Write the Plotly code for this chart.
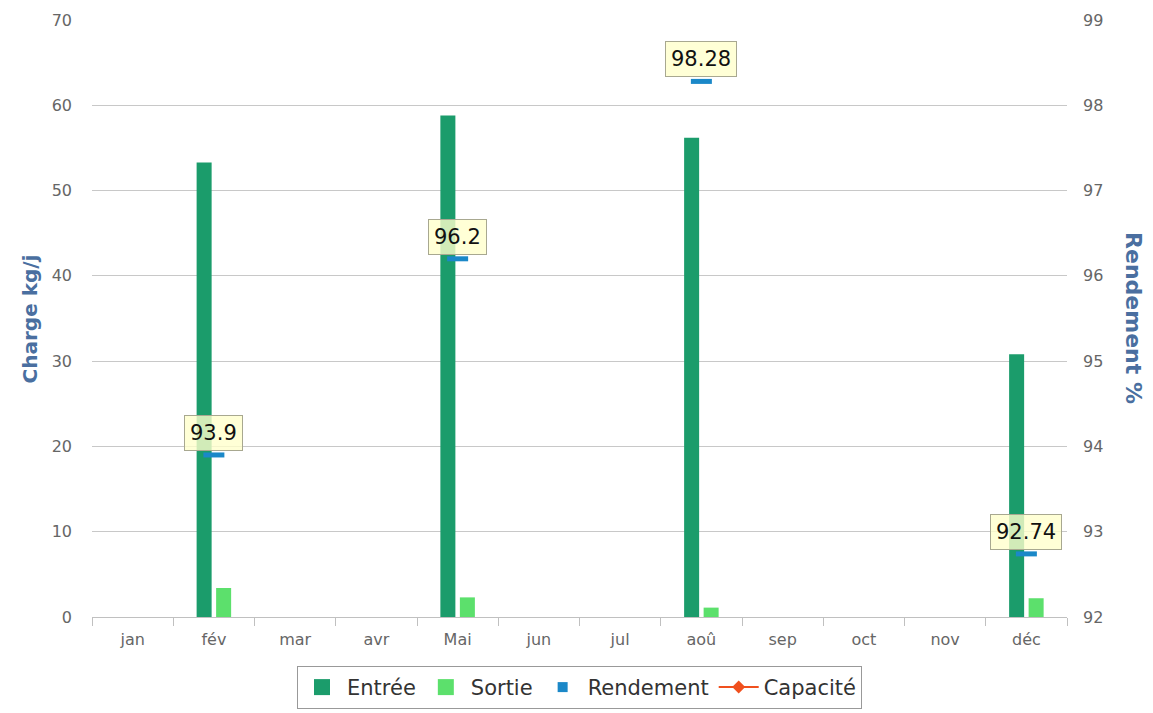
import plotly.graph_objects as go

months = ["jan", "fév", "mar", "avr", "Mai", "jun", "jul", "aoû", "sep", "oct", "nov", "déc"]
entree = [None, 53.3, None, None, 58.8, None, None, 56.2, None, None, None, 30.8]
sortie = [None, 3.4, None, None, 2.3, None, None, 1.1, None, None, None, 2.2]
rendement = [None, 93.9, None, None, 96.2, None, None, 98.28, None, None, None, 92.74]
capacite = [None] * 12
left_ticks = [0, 10, 20, 30, 40, 50, 60, 70]
right_ticks = [92, 93, 94, 95, 96, 97, 98, 99]

FONT = "DejaVu Sans"
C_ENT, C_SOR, C_REN, C_CAP = "#1b9c6b", "#5ce06c", "#1b88c8", "#f0501e"

fig = go.Figure()
fig.add_trace(go.Bar(x=months, y=entree, name="Entrée", marker_color=C_ENT,
                     marker_line_width=0, showlegend=False, legendgroup="e"))
fig.add_trace(go.Bar(x=months, y=sortie, name="Sortie", marker_color=C_SOR,
                     marker_line_width=0, showlegend=False, legendgroup="s"))
fig.add_trace(go.Scatter(x=months, y=rendement, name="Rendement", yaxis="y2", mode="markers",
                         showlegend=False, legendgroup="r",
                         marker=dict(symbol="line-ew", size=15, color=C_REN,
                                     line=dict(width=5, color=C_REN))))
# legend entries
fig.add_trace(go.Scatter(x=[None], y=[None], name="Entrée", mode="markers", legendgroup="e",
                         marker=dict(symbol="square", size=16, color=C_ENT)))
fig.add_trace(go.Scatter(x=[None], y=[None], name="Sortie", mode="markers", legendgroup="s",
                         marker=dict(symbol="square", size=16, color=C_SOR)))
fig.add_trace(go.Scatter(x=[None], y=[None], name="Rendement", yaxis="y2", mode="markers",
                         legendgroup="r", marker=dict(symbol="square", size=10, color=C_REN)))
fig.add_trace(go.Scatter(x=months, y=capacite, name="Capacité", yaxis="y2", mode="lines+markers",
                         line=dict(color=C_CAP, width=2),
                         marker=dict(symbol="diamond", size=10, color=C_CAP)))

for m, v in zip(months, rendement):
    if v is not None:
        fig.add_annotation(x=m, y=v, xref="x", yref="y2", text=str(v), showarrow=False,
                           yshift=22, bgcolor="rgba(255,255,204,0.8)", bordercolor="#a8a890",
                           borderwidth=1, borderpad=5,
                           font=dict(family=FONT, size=21, color="#111"))

fig.add_annotation(x=1.083, y=0.5, xref="paper", yref="paper", text="<b>Rendement %</b>",
                   textangle=90, showarrow=False,
                   font=dict(family=FONT, size=22, color="#4a6fa0"))
fig.add_annotation(x=-0.078, y=0.5, xref="paper", yref="paper", text="<b>Charge kg/j</b>",
                   textangle=-90, showarrow=False,
                   font=dict(family=FONT, size=20, color="#4a6fa0"))

fig.update_layout(
    width=1153, height=713,
    margin=dict(l=84, r=94, t=12, b=102),
    plot_bgcolor="white", paper_bgcolor="white",
    barmode="group", bargap=0.52, bargroupgap=0.23,
    showlegend=True,
    legend=dict(orientation="h", x=0.5, xanchor="center", y=-0.082, yanchor="top",
                bordercolor="#999", borderwidth=1, font=dict(family=FONT, size=21, color="#333"),
                itemsizing="trace", itemwidth=40),
    xaxis=dict(type="category", range=[-0.5, 11.5], tickson="boundaries", ticks="outside",
               ticklen=8, tickcolor="#c0c0c0", showline=True, linecolor="#c0c0c0",
               showgrid=False, automargin=False, ticklabelstandoff=8,
               tickfont=dict(family=FONT, size=16, color="#666")),
    yaxis=dict(range=[0, 70], tickvals=left_ticks, showgrid=True, gridcolor="#c8c8c8",
               zeroline=False, showline=False, automargin=False, ticklabelstandoff=19,
               tickfont=dict(family=FONT, size=16, color="#666")),
    yaxis2=dict(range=[92, 99], tickvals=right_ticks, overlaying="y", side="right",
                showgrid=False, zeroline=False, showline=False, automargin=False,
                ticklabelstandoff=15,
                tickfont=dict(family=FONT, size=16, color="#666")),
    font=dict(family=FONT),
)

fig.write_html("out.html")
